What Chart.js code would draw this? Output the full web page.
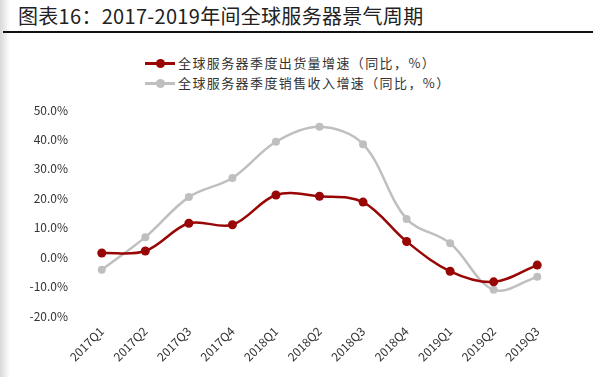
<!DOCTYPE html>
<html>
<head>
<meta charset="utf-8">
<script src="https://cdn.jsdelivr.net/npm/chart.js@4.4.0/dist/chart.umd.min.js"></script>
<style>
  html, body { margin: 0; padding: 0; background: #fff; }
  body { width: 593px; height: 377px; position: relative; overflow: hidden;
         font-family: "Noto Sans CJK SC", sans-serif; }
  .shade { position: absolute; left: 0; top: 0; width: 10px; height: 377px;
           background: linear-gradient(to right, #d8d8d8, #fff); }
  .title { position: absolute; left: 18px; top: 1px; font-size: 20px; color: #222; letter-spacing: 0.3px; }
  .rule { position: absolute; left: 3px; right: 0; top: 31px; height: 2px; background: #111; }
  .legend { position: absolute; left: 145px; top: 53px; font-size: 13px; color: #333; letter-spacing: 1.4px; }
  .legend div { height: 20px; line-height: 20px; display: flex; align-items: center; }
  .legend .mk { position: relative; width: 30px; height: 20px; margin-right: 3px; }
  .legend .mk i { position: absolute; left: 0; top: 9px; width: 30px; height: 3px; }
  .legend .mk b { position: absolute; left: 11px; top: 6px; width: 9px; height: 9px; border-radius: 50%; }
  #wrap { position: absolute; left: 0; top: 0; width: 593px; height: 377px; }
</style>
</head>
<body>
<div class="shade"></div>
<div class="title">图表16：2017-2019年间全球服务器景气周期</div>
<div class="rule"></div>
<div class="legend" id="legend"></div>
<div id="wrap"><canvas id="chart"></canvas></div>
<script>
const quarters = ['2017Q1', '2017Q2', '2017Q3', '2017Q4', '2018Q1', '2018Q2',
                  '2018Q3', '2018Q4', '2019Q1', '2019Q2', '2019Q3'];
// 全球服务器季度出货量增速（同比，%）
const shipmentGrowth = [1.4, 2.1, 11.5, 11.0, 21.1, 20.7, 18.7, 5.3, -4.8, -8.4, -2.7];
// 全球服务器季度销售收入增速（同比，%）
const revenueGrowth = [-4.3, 6.8, 20.4, 26.9, 39.2, 44.3, 38.4, 13.0, 4.7, -11.1, -6.7];
const seriesNames = ['全球服务器季度出货量增速（同比，%）', '全球服务器季度销售收入增速（同比，%）'];
const seriesColors = ['#990606', '#bfbfbf'];
const yTicks = [50, 40, 30, 20, 10, 0, -10, -20];

const legendEl = document.getElementById('legend');
seriesNames.forEach((name, i) => {
  const row = document.createElement('div');
  row.innerHTML = '<span class="mk"><i style="background:' + seriesColors[i] + '"></i><b style="background:' +
    seriesColors[i] + '"></b></span><span>' + name + '</span>';
  legendEl.appendChild(row);
});

const seriesData = [shipmentGrowth, revenueGrowth];
const ctx = document.getElementById('chart').getContext('2d');
new Chart(ctx, {
  type: 'line',
  data: {
    labels: quarters,
    datasets: seriesData.map((d, i) => ({
      label: seriesNames[i],
      data: d,
      borderColor: seriesColors[i],
      backgroundColor: seriesColors[i],
      borderWidth: 2.5,
      pointRadius: i === 0 ? 4.5 : 4,
      pointBorderWidth: 0,
      tension: 0.35
    }))
  },
  options: {
    responsive: true,
    maintainAspectRatio: false,
    animation: false,
    layout: { padding: { left: 0, right: 34, top: 110, bottom: 0 } },
    plugins: { legend: { display: false }, tooltip: { enabled: false } },
    scales: {
      x: {
        offset: true,
        grid: { display: false, drawTicks: false },
        border: { display: false },
        ticks: {
          minRotation: 45, maxRotation: 45, padding: 8,
          color: '#333', font: { size: 12, family: '"Noto Sans CJK SC", sans-serif' }
        },
        afterFit: s => { s.height = 61; }
      },
      y: {
        min: -20, max: 50,
        afterBuildTicks: s => { s.ticks = yTicks.map(v => ({ value: v })); },
        grid: { display: false, drawTicks: false },
        border: { display: false },
        ticks: {
          padding: 12,
          color: '#333', font: { size: 12, family: '"Noto Sans CJK SC", sans-serif' },
          callback: v => v.toFixed(1) + '%'
        },
        afterFit: s => { s.width = 80; }
      }
    }
  }
});
</script>
</body>
</html>
